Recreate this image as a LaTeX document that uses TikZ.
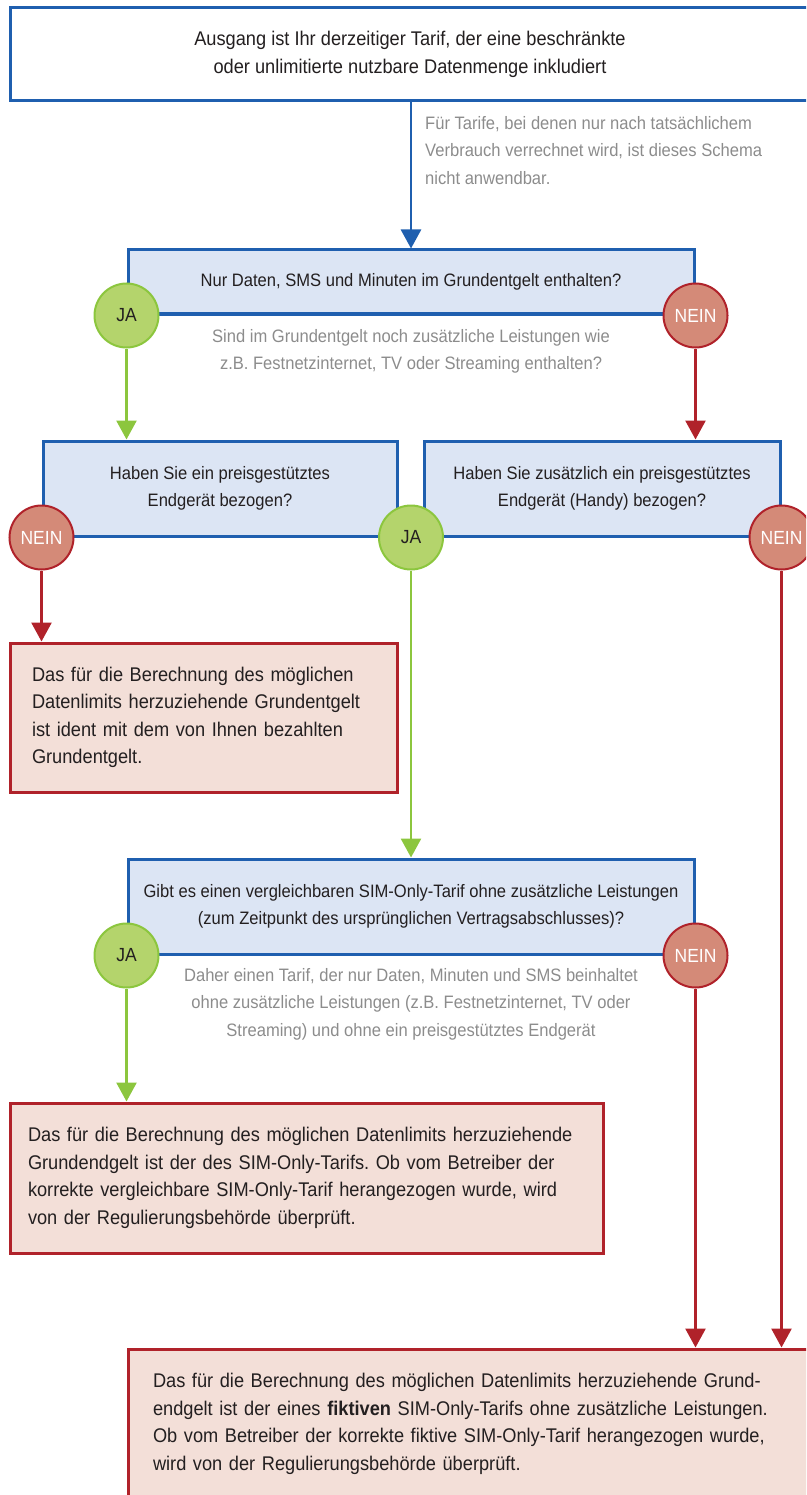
\documentclass[tikz,border=0pt]{standalone}
\usepackage{fontspec}
\setmainfont{Liberation Sans}[FakeStretch=0.92]
\usepackage{tikz}
\usetikzlibrary{arrows.meta}
\definecolor{qblue}{HTML}{1F5FAF}
\definecolor{qfill}{HTML}{DCE5F4}
\definecolor{jagreen}{HTML}{8CC63E}
\definecolor{jafill}{HTML}{B4D46C}
\definecolor{neinred}{HTML}{B0222A}
\definecolor{neinfill}{HTML}{D48A78}
\definecolor{resfill}{HTML}{F3DFD8}
\definecolor{notegray}{HTML}{8C8C8C}
\definecolor{textdark}{HTML}{231F20}
\frenchspacing

\begin{document}
\begin{tikzpicture}[
    x=1pt, y=-1pt,
    bigtext/.style={font=\fontsize{19.8}{27.5}\selectfont},
    smalltext/.style={font=\fontsize{18}{27.5}\selectfont},
    question/.style={rectangle, draw=qblue, line width=3pt, fill=qfill, smalltext,
                     text=textdark, align=center, inner sep=0pt},
    result/.style={rectangle, draw=neinred, line width=3pt, fill=resfill, bigtext,
                   text=textdark, align=left, inner ysep=0pt},
    note/.style={smalltext, text=notegray, inner sep=0pt},
    janode/.style={circle, draw=jagreen, line width=2pt, fill=jafill, minimum size=64pt,
                   inner sep=0pt, font=\fontsize{19}{20}\selectfont, text=textdark},
    neinnode/.style={circle, draw=neinred, line width=2pt, fill=neinfill, minimum size=64pt,
                     inner sep=0pt, font=\fontsize{19}{20}\selectfont, text=white},
    startline/.style={draw=qblue, line width=2.7pt, -{Triangle[length=19pt,width=20pt]}},
    yesline/.style={draw=jagreen, line width=2.7pt, -{Triangle[length=19pt,width=20pt]}},
    noline/.style={draw=neinred, line width=2.7pt, -{Triangle[length=19pt,width=20pt]}},
]
\useasboundingbox (0,0) rectangle (806,1495);
\clip (0,0) rectangle (806,1495);

% Start
\node[rectangle, draw=qblue, line width=3pt, fill=white, bigtext, text=textdark, align=center,
      minimum width=800pt, minimum height=93pt] (start) at (410,54.5)
    {Ausgang ist Ihr derzeitiger Tarif, der eine beschränkte\\ oder unlimitierte nutzbare Datenmenge inkludiert};

% Questions
\node[question, minimum width=566pt, minimum height=64pt] (q1) at (411,282)
    {Nur Daten, SMS und Minuten im Grundentgelt enthalten?};
\node[question, minimum width=354pt, minimum height=95pt] (q2l) at (220,488.5)
    {Haben Sie ein preisgestütztes\\ Endgerät bezogen?};
\node[question, minimum width=356pt, minimum height=95pt] (q2r) at (602,488.5)
    {Haben Sie zusätzlich ein preisgestütztes\\ Endgerät (Handy) bezogen?};
\node[question, minimum width=566pt, minimum height=95pt] (q3) at (411,906.5)
    {Gibt es einen vergleichbaren SIM-Only-Tarif ohne zusätzliche Leistungen\\
     (zum Zeitpunkt des ursprünglichen Vertragsabschlusses)?};

% Results
\node[result, inner xsep=22pt, text width=343pt, minimum height=149pt] (r1) at (203.5,717.5)
    {Das für die Berechnung des möglichen\\ Datenlimits herzuziehende Grundentgelt\\
     ist ident mit dem von Ihnen bezahlten\\ Grundentgelt.};
\node[result, inner xsep=18pt, text width=557pt, minimum height=150pt] (r2) at (306.5,1178)
    {Das für die Berechnung des möglichen Datenlimits herzuziehende\\
     Grundendgelt ist der des SIM-Only-Tarifs. Ob vom Betreiber der\\
     korrekte vergleichbare SIM-Only-Tarif herangezogen wurde, wird\\
     von der Regulierungsbehörde überprüft.};
\node[result, inner xsep=25pt, text width=662pt, minimum height=150pt] (r3) at (484,1424)
    {Das für die Berechnung des möglichen Datenlimits herzuziehende Grund-\\
     endgelt ist der eines \textbf{fiktiven} SIM-Only-Tarifs ohne zusätzliche Leistungen.\\
     Ob vom Betreiber der korrekte fiktive SIM-Only-Tarif herangezogen wurde,\\
     wird von der Regulierungsbehörde überprüft.};

% Notes
\node[note, align=left, anchor=west] (note1) at (425,150.5)
    {Für Tarife, bei denen nur nach tatsächlichem\\ Verbrauch verrechnet wird, ist dieses Schema\\ nicht anwendbar.};
\node[note, align=center] (note2) at (411,351.5)
    {Sind im Grundentgelt noch zusätzliche Leistungen wie\\ z.B. Festnetzinternet, TV oder Streaming enthalten?};
\node[note, align=center] (note3) at (411,1004)
    {Daher einen Tarif, der nur Daten, Minuten und SMS beinhaltet\\
     ohne zusätzliche Leistungen (z.B. Festnetzinternet, TV oder\\
     Streaming) und ohne ein preisgestütztes Endgerät};

% JA / NEIN
\node[janode] (ja1) at (q1.south west) {JA};
\node[neinnode] (nein1) at (q1.south east) {NEIN};
\node[neinnode] (nein2) at (q2l.south west) {NEIN};
\node[janode] (ja2) at (q3.north |- q2l.south) {JA};
\node[neinnode] (nein3) at (q2r.south east) {NEIN};
\node[janode] (ja3) at (q3.south west) {JA};
\node[neinnode] (nein4) at (q3.south east) {NEIN};

% Connectors
\draw[startline] (start.south -| q1.north) -- (q1.north);
\draw[yesline] (ja1.south) -- (ja1.south |- q2l.north);
\draw[noline] (nein1.south) -- (nein1.south |- q2r.north);
\draw[noline] (nein2.south) -- (nein2.south |- r1.north);
\draw[yesline] (ja2.south) -- (q3.north);
\draw[noline] (nein3.south) -- (nein3.south |- r3.north);
\draw[yesline] (ja3.south) -- (ja3.south |- r2.north);
\draw[noline] (nein4.south) -- (nein4.south |- r3.north);

\end{tikzpicture}
\end{document}
